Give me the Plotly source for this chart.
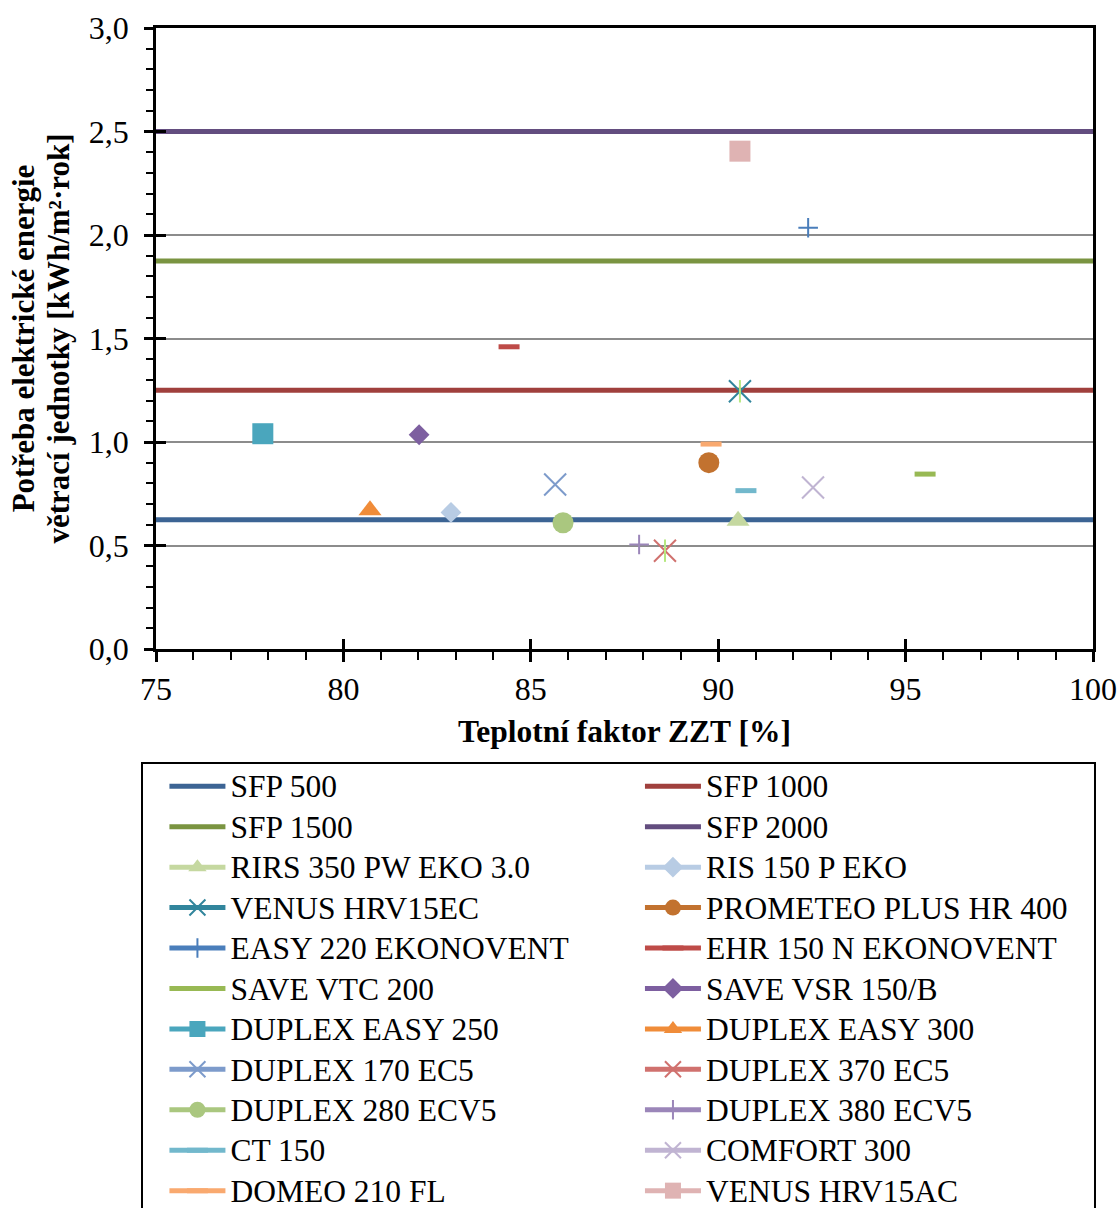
import plotly.graph_objects as go

# ---------------- data ----------------
x_range = [75, 100]
sfp_names = ["SFP 500", "SFP 1000", "SFP 1500", "SFP 2000"]
sfp_values = [0.625, 1.25, 1.875, 2.5]

unit_names = [
    "RIRS 350 PW EKO 3.0", "RIS 150 P EKO",
    "VENUS HRV15EC", "PROMETEO PLUS HR 400",
    "EASY 220 EKONOVENT", "EHR 150 N EKONOVENT",
    "SAVE VTC 200", "SAVE VSR 150/B",
    "DUPLEX EASY 250", "DUPLEX EASY 300",
    "DUPLEX 170 EC5", "DUPLEX 370 EC5",
    "DUPLEX 280 ECV5", "DUPLEX 380 ECV5",
    "CT 150", "COMFORT 300",
    "DOMEO 210 FL", "VENUS HRV15AC",
]
unit_x = [90.53, 82.87, 90.58, 89.75, 92.4, 84.42, 95.52, 82.02, 77.85,
          80.71, 85.65, 88.58, 85.86, 87.89, 90.74, 92.53, 89.81, 90.58]
unit_y = [0.62, 0.66, 1.245, 0.90, 2.035, 1.46, 0.845, 1.035, 1.04,
          0.67, 0.795, 0.475, 0.61, 0.505, 0.765, 0.78, 0.99, 2.405]

x_tick_values = [75, 80, 85, 90, 95, 100]
y_tick_values = [0.0, 0.5, 1.0, 1.5, 2.0, 2.5, 3.0]

# ---------------- styles ----------------
sfp_colors = ["#3c6494", "#a0403d", "#7a9441", "#634d7f"]
unit_colors = ["#c5d8a0", "#b8cce4", "#31859c", "#c2722f",
               "#4a7ebb", "#be4b48", "#98b954", "#7d5fa0",
               "#4aa6bd", "#f08c39", "#7d9bcb", "#d0716e",
               "#aac77f", "#9b86b9", "#72b8cc", "#c0b4d2",
               "#f9a96f", "#dfb3b3"]
unit_symbols = ["triangle-up", "diamond", "asterisk", "circle",
                "cross-thin-open", "line-ew-open", "line-ew-open", "diamond",
                "square", "triangle-up", "x-thin-open", "asterisk",
                "circle", "cross-thin-open", "line-ew-open", "x-thin-open",
                "line-ew-open", "square"]

FONT = "Liberation Serif"
LEG_TXT = '<span style="font-size:31.5px">{}</span>'

all_names = sfp_names + unit_names
legend_of = {n: ("legend" if i % 2 == 0 else "legend2") for i, n in enumerate(all_names)}

fig = go.Figure()

for name, val, col in zip(sfp_names, sfp_values, sfp_colors):
    fig.add_trace(go.Scatter(
        x=x_range, y=[val, val], mode="lines", name=LEG_TXT.format(name),
        legend=legend_of[name], line=dict(color=col, width=5), hoverinfo="skip"))

for name, xv, yv, col, sym in zip(unit_names, unit_x, unit_y, unit_colors, unit_symbols):
    if sym == "asterisk":
        fig.add_trace(go.Scatter(
            x=[xv], y=[yv], mode="lines+markers", name=LEG_TXT.format(name),
            legend=legend_of[name], legendgroup=name,
            line=dict(color=col, width=5),
            marker=dict(symbol="x-thin-open", size=22, line=dict(color=col, width=2))))
        fig.add_trace(go.Scatter(
            x=[xv], y=[yv], mode="markers", legendgroup=name, showlegend=False,
            legend=legend_of[name],
            marker=dict(symbol="line-ns-open", size=16, line=dict(color=col, width=2))))
        continue
    if sym.startswith("line-ew"):
        mk = dict(symbol=sym, size=15, line=dict(color=col, width=5))
    elif sym.endswith("open"):
        size = 14 if sym.startswith("cross") else 22
        mk = dict(symbol=sym, size=size, line=dict(color=col, width=2))
    else:
        size = {"triangle-up": 20, "diamond": 16, "circle": 21, "square": 21}[sym]
        mk = dict(symbol=sym, size=size, color=col, line=dict(width=0))
    fig.add_trace(go.Scatter(
        x=[xv], y=[yv], mode="lines+markers", name=LEG_TXT.format(name),
        legend=legend_of[name], line=dict(color=col, width=5), marker=mk))

# helper trace for inside (crossing) major ticks
fig.add_trace(go.Scatter(x=[75], y=[0], xaxis="x2", yaxis="y2", mode="markers",
                         marker=dict(opacity=0), showlegend=False, hoverinfo="skip"))

legend_common = dict(
    orientation="v", xanchor="left", yanchor="top", y=-0.1804,
    itemwidth=56, borderwidth=0, bgcolor="rgba(0,0,0,0)",
    font=dict(family=FONT, size=28.8, color="black"),
    traceorder="normal", tracegroupgap=0,
)

fig.update_layout(
    width=1119, height=1208,
    margin=dict(l=156, r=26, t=28, b=559, autoexpand=False),
    paper_bgcolor="white", plot_bgcolor="white",
    separators=", ",
    font=dict(family=FONT, size=32, color="black"),
    showlegend=True,
    xaxis=dict(
        range=x_range, tickvals=x_tick_values, ticks="outside", ticklen=10, tickwidth=2.5,
        tickcolor="black", showline=True, linecolor="black", linewidth=2.5, mirror=True,
        showgrid=False, zeroline=False, ticklabelstandoff=0,
        tickfont=dict(family=FONT, size=32),
        minor=dict(dtick=1, ticks="outside", ticklen=8, tickwidth=2, tickcolor="black", showgrid=False),
        title=dict(text="<b>Teplotní faktor ZZT [%]</b>", font=dict(family=FONT, size=31.5), standoff=14),
    ),
    yaxis=dict(
        range=[0, 3], tickvals=y_tick_values, tickformat=".1f", ticks="outside", ticklen=9,
        tickwidth=2.5, tickcolor="black", showline=True, linecolor="black", linewidth=2.5,
        mirror=True, showgrid=True, gridcolor="#8c8c8c", gridwidth=2, zeroline=False,
        ticklabelstandoff=9, tickfont=dict(family=FONT, size=32),
        minor=dict(dtick=0.1, ticks="outside", ticklen=7, tickwidth=2, tickcolor="black", showgrid=False),
        title=dict(text='<b><span style="font-size:31px">Potřeba elektrické energie</span><br>'
                        '<span style="font-size:31px">větrací jednotky [kWh/m²·rok]</span></b>',
                   font=dict(family=FONT, size=27), standoff=12),
    ),
    xaxis2=dict(overlaying="x", anchor="y2", range=x_range, tickvals=x_tick_values, ticks="inside",
                ticklen=10, tickwidth=2.5, tickcolor="black", showticklabels=False,
                showgrid=False, showline=False, zeroline=False),
    yaxis2=dict(overlaying="y", anchor="x2", range=[0, 3], tickvals=y_tick_values, ticks="inside",
                ticklen=10, tickwidth=2.5, tickcolor="black", showticklabels=False,
                showgrid=False, showline=False, zeroline=False),
    legend=dict(x=0.0090, **legend_common),
    legend2=dict(x=0.5165, **legend_common),
    shapes=[dict(type="rect", xref="paper", yref="paper",
                 x0=-0.01494, x1=1.00213, y0=-0.18357, y1=-0.915,
                 line=dict(color="black", width=2), fillcolor="rgba(0,0,0,0)", layer="below")],
)

fig.write_html("out.html")
